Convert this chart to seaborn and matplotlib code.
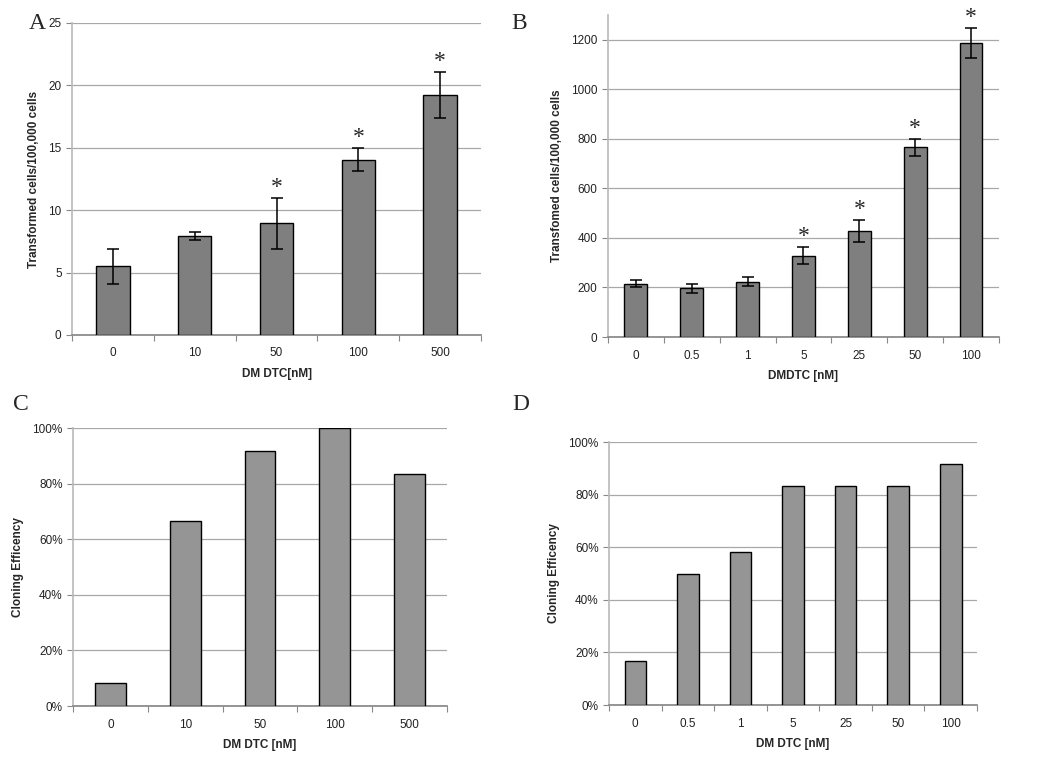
import numpy as np
import pandas as pd
import seaborn as sns
import matplotlib.pyplot as plt
from matplotlib.ticker import PercentFormatter

# Panel A
dose_a = ["0", "10", "50", "100", "500"]
cells_a = [5.5, 7.9, 8.95, 14.05, 19.25]
err_a = [1.4, 0.32, 2.05, 0.95, 1.85]
star_a = [False, False, True, True, True]

# Panel B
dose_b = ["0", "0.5", "1", "5", "25", "50", "100"]
cells_b = [215, 197, 224, 328, 428, 766, 1188]
err_b = [14, 19, 18, 35, 46, 34, 60]
star_b = [False, False, False, True, True, True, True]

# Panel C
dose_c = ["0", "10", "50", "100", "500"]
eff_c = [8.33, 66.7, 91.7, 100.0, 83.3]

# Panel D
dose_d = ["0", "0.5", "1", "5", "25", "50", "100"]
eff_d = [16.7, 50.0, 58.3, 83.3, 83.3, 83.3, 91.7]

sns.set_theme(style="white")
plt.rcParams["font.family"] = ["Liberation Sans", "DejaVu Sans"]

fig = plt.figure(figsize=(10.5, 7.66), dpi=100)
ax_a = fig.add_axes([0.0686, 0.5627, 0.3895, 0.4073])
ax_b = fig.add_axes([0.579, 0.560, 0.3724, 0.4204])
ax_c = fig.add_axes([0.0695, 0.0783, 0.3562, 0.3629])
ax_d = fig.add_axes([0.580, 0.0796, 0.3505, 0.3433])


def draw_panel(ax, dose, vals, color, xlabel, ylabel, yticks, ylim, errs=None, stars=None, pct=False):
    df = pd.DataFrame({"dose": dose, "val": vals})
    sns.barplot(data=df, x="dose", y="val", color=color, width=0.41,
                edgecolor="black", linewidth=1.0, saturation=1, ax=ax, zorder=3)
    n = len(dose)
    if errs is not None:
        ax.errorbar(np.arange(n), vals, yerr=errs, fmt="none", ecolor="black",
                    elinewidth=1.1, capsize=4, capthick=1.1, zorder=4)
        for i, s in enumerate(stars):
            if s:
                ax.text(i, vals[i] + errs[i], "*", ha="center", va="bottom",
                        fontsize=17, family="Liberation Serif", zorder=5)
    ax.set_xlim(-0.5, n - 0.5)
    ax.set_ylim(*ylim)
    ax.set_yticks(yticks)
    if pct:
        ax.yaxis.set_major_formatter(PercentFormatter(decimals=0))
    ax.yaxis.grid(True, color="#a8a8a8", linewidth=0.9, zorder=0)
    ax.set_xticks(np.arange(-0.5, n), minor=True)
    ax.tick_params(axis="x", which="major", length=0, labelsize=8.5, pad=9, colors="#222222")
    ax.tick_params(axis="x", which="minor", length=4, width=0.8, color="#888888", bottom=True)
    ax.tick_params(axis="y", length=4, width=0.8, color="#888888", left=True,
                   labelsize=8.5, colors="#222222")
    for side in ["top", "right"]:
        ax.spines[side].set_visible(False)
    ax.spines["left"].set_color("#bbbbbb")
    ax.spines["bottom"].set_color("#888888")
    ax.set_xlabel(xlabel, fontsize=8.5, fontweight="bold", labelpad=6)
    ax.set_ylabel(ylabel, fontsize=8.5, fontweight="bold", labelpad=6)


draw_panel(ax_a, dose_a, cells_a, "#7f7f7f", "DM DTC[nM]", "Transformed cells/100,000 cells",
           [0, 5, 10, 15, 20, 25], (0, 25), err_a, star_a)
draw_panel(ax_b, dose_b, cells_b, "#7f7f7f", "DMDTC [nM]", "Transfomed cells/100,000 cells",
           [0, 200, 400, 600, 800, 1000, 1200], (0, 1300), err_b, star_b)
draw_panel(ax_c, dose_c, eff_c, "#959595", "DM DTC [nM]", "Cloning Efficency",
           [0, 20, 40, 60, 80, 100], (0, 100), pct=True)
draw_panel(ax_d, dose_d, eff_d, "#959595", "DM DTC [nM]", "Cloning Efficency",
           [0, 20, 40, 60, 80, 100], (0, 100), pct=True)

for lab, x, y in [("A", 0.027, 0.983), ("B", 0.487, 0.983), ("C", 0.012, 0.486), ("D", 0.488, 0.486)]:
    fig.text(x, y, lab, fontsize=17, family="Liberation Serif", va="top", ha="left")

fig.savefig("out.png", dpi=100)
